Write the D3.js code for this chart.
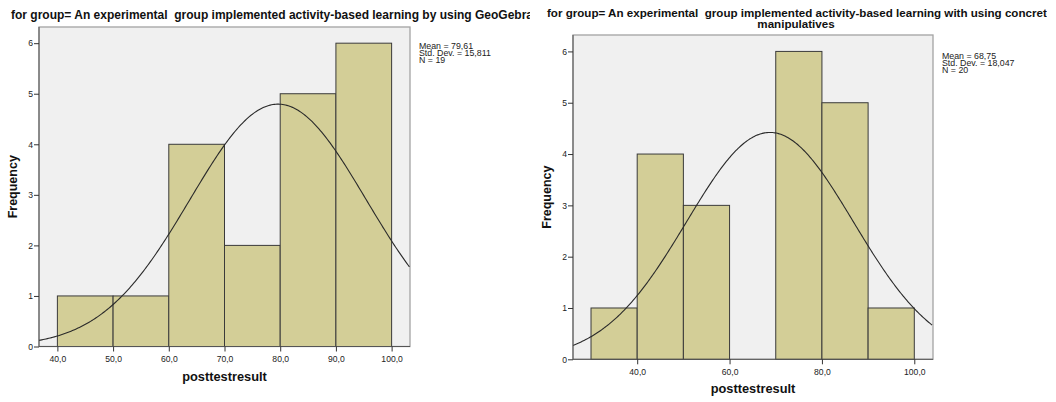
<!DOCTYPE html>
<html>
<head>
<meta charset="utf-8">
<script src="https://cdn.jsdelivr.net/npm/d3@7"></script>
<style>
  html, body { margin: 0; padding: 0; background: #fff; }
  svg { display: block; font-family: "Liberation Sans", Arial, sans-serif; }
  .title { white-space: pre; }
</style>
</head>
<body>
<svg id="chart" width="1056" height="402"></svg>
<script>
// Histogram of posttest results, one panel per group
const binStartsA = [40, 50, 60, 70, 80, 90];
const countsA    = [1, 1, 4, 2, 5, 6];
const statsA     = { mean: 79.61, sd: 15.811, n: 19 };
const xTicksA    = [40, 50, 60, 70, 80, 90, 100];
const titleA     = ["for group= An experimental  group implemented activity-based learning by using GeoGebra"];

const binStartsB = [30, 40, 50, 60, 70, 80, 90];
const countsB    = [1, 4, 3, 0, 6, 5, 1];
const statsB     = { mean: 68.75, sd: 18.047, n: 20 };
const xTicksB    = [40, 60, 80, 100];
const titleB     = ["for group= An experimental  group implemented activity-based learning with using concrete", "manipulatives"];

const yTicks = [0, 1, 2, 3, 4, 5, 6];
const binWidth = 10;
const fmt = v => d3.format(".1f")(v).replace(".", ",");
const fmtStat = (v, d) => d3.format("." + d + "f")(v).replace(".", ",");

const svg = d3.select("#chart");

function panel(cfg) {
  const g = svg.append("g");
  const x = d3.scaleLinear().domain(cfg.xDomain).range([cfg.left, cfg.right]);
  const y = d3.scaleLinear().domain([0, 6.32]).range([cfg.bottom, cfg.top]);

  // plot area
  g.append("rect")
    .attr("x", cfg.left).attr("y", cfg.top)
    .attr("width", cfg.right - cfg.left).attr("height", cfg.bottom - cfg.top)
    .attr("fill", "#f0f0f0").attr("stroke", "#a3a3a3").attr("stroke-width", 1.3);

  // bars
  g.selectAll("rect.bar").data(cfg.starts.map((s, i) => ({ s, c: cfg.counts[i] })).filter(d => d.c > 0))
    .enter().append("rect").attr("class", "bar")
    .attr("x", d => x(d.s)).attr("width", d => x(d.s + binWidth) - x(d.s))
    .attr("y", d => y(d.c)).attr("height", d => y(0) - y(d.c))
    .attr("fill", "#d3ce97").attr("stroke", "#3a3a3a").attr("stroke-width", 1);

  // normal curve scaled to counts
  const { mean, sd, n } = cfg.stats;
  const pdf = v => n * binWidth * Math.exp(-0.5 * ((v - mean) / sd) ** 2) / (sd * Math.sqrt(2 * Math.PI));
  const xs = d3.range(cfg.xDomain[0], cfg.xDomain[1] + 0.01, 0.25);
  g.append("path")
    .attr("d", d3.line().x(v => x(v)).y(v => y(pdf(v)))(xs))
    .attr("fill", "none").attr("stroke", "#2a2a2a").attr("stroke-width", 1.1);

  // axes
  const xAxis = d3.axisBottom(x).tickValues(cfg.xTicks).tickFormat(fmt).tickSize(5).tickSizeOuter(0);
  const gx = g.append("g").attr("transform", `translate(0,${cfg.bottom})`).call(xAxis);
  gx.select(".domain").attr("stroke", "#555").attr("d", `M${cfg.left},0H${cfg.right}`);
  gx.selectAll(".tick line").attr("stroke", "#333");
  gx.selectAll("text").attr("font-size", 8.6).attr("fill", "#222").attr("font-family", "Liberation Sans, Arial").attr("dy", "0.85em");

  const yAxis = d3.axisLeft(y).tickValues(yTicks).tickFormat(d3.format("d")).tickSize(5).tickSizeOuter(0);
  const gy = g.append("g").attr("transform", `translate(${cfg.left},0)`).call(yAxis);
  gy.select(".domain").attr("stroke", "#555").attr("d", `M0,${cfg.bottom}V${cfg.top}`);
  gy.selectAll(".tick line").attr("stroke", "#333");
  gy.selectAll("text").attr("font-size", 8.6).attr("fill", "#222").attr("font-family", "Liberation Sans, Arial").attr("x", -6);

  // axis titles
  g.append("text").attr("x", (cfg.left + cfg.right) / 2).attr("y", cfg.bottom + 34)
    .attr("text-anchor", "middle").attr("font-weight", "bold").attr("font-size", 12.8).attr("fill", "#111")
    .text("posttestresult");
  g.append("text")
    .attr("transform", `translate(${cfg.left - 22},${(cfg.top + cfg.bottom) / 2}) rotate(-90)`)
    .attr("text-anchor", "middle").attr("font-weight", "bold").attr("font-size", 12.5).attr("fill", "#111")
    .text("Frequency");

  // summary statistics
  const lines = [`Mean = ${fmtStat(mean, 2)}`, `Std. Dev. = ${fmtStat(sd, 3)}`, `N = ${n}`];
  g.append("g").selectAll("text").data(lines).enter().append("text")
    .attr("x", cfg.right + 9).attr("y", (d, i) => cfg.statsY + i * 7.4)
    .attr("font-size", 8.8).attr("fill", "#222").text(d => d);

  // title
  const clipId = "clip" + cfg.id;
  svg.append("clipPath").attr("id", clipId).append("rect")
    .attr("x", cfg.clip[0]).attr("y", 0).attr("width", cfg.clip[1] - cfg.clip[0]).attr("height", 40);
  const tg = g.append("g").attr("clip-path", `url(#${clipId})`);
  cfg.title.forEach((t, i) => {
    const tt = tg.append("text").attr("class", "title").attr("y", cfg.titleY + i * 11)
      .attr("font-weight", "bold").attr("font-size", cfg.titleSize).attr("fill", "#111").text(t);
    if (i === 0) tt.attr("x", cfg.titleX).attr("text-anchor", "start");
    else tt.attr("x", cfg.titleX2).attr("text-anchor", "middle");
  });
}

panel({
  id: "A", starts: binStartsA, counts: countsA, stats: statsA, xTicks: xTicksA, title: titleA,
  xDomain: [36.7, 103.3], left: 39, right: 410, top: 27, bottom: 346.5,
  statsY: 48.5, titleX: 11, titleY: 19, titleSize: 12, clip: [0, 530]
});
panel({
  id: "B", starts: binStartsB, counts: countsB, stats: statsB, xTicks: xTicksB, title: titleB,
  xDomain: [26.1, 104.05], left: 573, right: 933, top: 35, bottom: 359.3,
  statsY: 58.5, titleX: 547, titleX2: 796, titleY: 17, titleSize: 11.6, clip: [530, 1047]
});
</script>
</body>
</html>
